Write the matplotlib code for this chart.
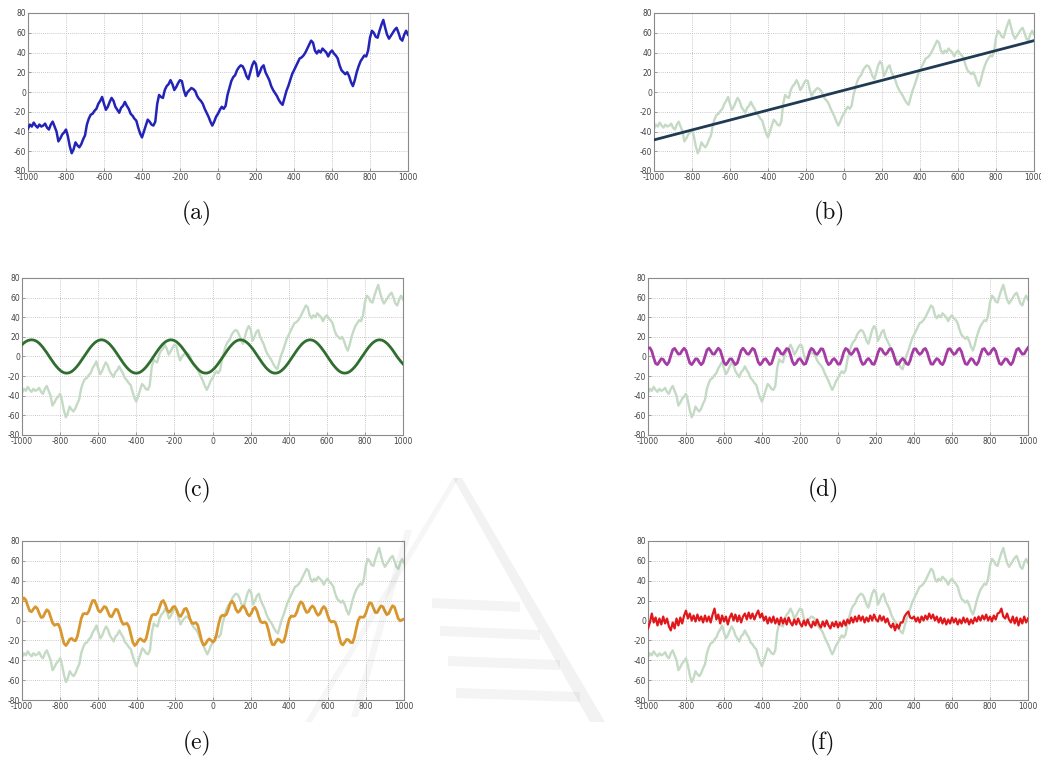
import numpy as np
import matplotlib
matplotlib.use("Agg")
import matplotlib.pyplot as plt
from matplotlib.patches import Polygon

plt.rcParams["axes.unicode_minus"] = False

# sample positions (every 10 units)
x = np.arange(-1000, 1001, 10)

# observed series
series_a = [
    -37, -33, -35, -31, -34, -36, -33, -35, -34, -32,
    -36, -38, -33, -30, -35, -40, -50, -47, -43, -41,
    -38, -45, -55, -62, -58, -51, -54, -56, -53, -48,
    -44, -33, -27, -23, -22, -19, -17, -12, -9, -5,
    -12, -18, -15, -10, -6, -9, -15, -18, -21, -16,
    -14, -10, -14, -17, -22, -24, -27, -29, -36, -42,
    -46, -40, -34, -28, -30, -33, -34, -30, -12, -3,
    -5, -6, 2, 6, 8, 12, 8, 2, 5, 9,
    12, 11, 2, -4, 0, 2, 4, 3, 1, -4,
    -7, -9, -12, -17, -21, -25, -30, -34, -30, -25,
    -22, -18, -15, -17, -14, -3, 4, 11, 15, 17,
    22, 25, 27, 26, 22, 16, 13, 20, 27, 31,
    28, 16, 20, 25, 27, 20, 16, 12, 6, 2,
    -1, -4, -8, -11, -13, -6, 1, 6, 12, 18,
    22, 26, 30, 34, 35, 37, 40, 44, 48, 52,
    50, 42, 39, 42, 40, 44, 42, 40, 36, 40,
    42, 39, 37, 34, 27, 22, 20, 18, 20, 16,
    10, 6, 12, 20, 26, 31, 34, 37, 36, 42,
    55, 62, 60, 56, 55, 62, 68, 73, 65, 58,
    54, 57, 60, 63, 65, 60, 54, 52, 58, 62,
    58,
]

# linear trend: values at x = -1000 and x = 1000
trend_x = [-1000, 1000]
trend_y = [-48.5, 52.0]

# slow periodic component
seasonal_c = [
    12.0, 13.8, 15.2, 16.2, 16.8, 17.0, 16.8, 16.2, 15.1, 13.5,
    11.5, 9.2, 6.6, 3.9, 0.9, -2.0, -4.8, -7.6, -10.0, -12.2,
    -14.1, -15.5, -16.5, -16.9, -16.9, -16.4, -15.4, -13.9, -12.0, -9.8,
    -7.3, -4.5, -1.7, 1.2, 4.1, 6.9, 9.5, 11.7, 13.7, 15.2,
    16.3, 16.9, 17.0, 16.6, 15.7, 14.3, 12.6, 10.4, 8.0, 5.3,
    2.4, -0.5, -3.4, -6.2, -8.8, -11.2, -13.2, -14.9, -16.1, -16.8,
    -17.0, -16.7, -16.0, -14.7, -13.0, -11.0, -8.6, -6.0, -3.1, -0.2,
    2.7, 5.5, 8.2, 10.6, 12.8, 14.5, 15.8, 16.6, 17.0, 16.8,
    16.2, 15.1, 13.5, 11.5, 9.2, 6.6, 3.9, 0.9, -2.0, -4.8,
    -7.6, -10.0, -12.2, -14.1, -15.5, -16.5, -16.9, -16.9, -16.4, -15.4,
    -13.9, -12.0, -9.8, -7.3, -4.5, -1.7, 1.2, 4.1, 6.9, 9.5,
    11.7, 13.7, 15.2, 16.3, 16.9, 17.0, 16.6, 15.7, 14.3, 12.6,
    10.4, 8.0, 5.3, 2.4, -0.5, -3.4, -6.2, -8.8, -11.2, -13.2,
    -14.9, -16.1, -16.8, -17.0, -16.7, -16.0, -14.7, -13.0, -11.0, -8.6,
    -6.0, -3.1, -0.2, 2.7, 5.5, 8.2, 10.6, 12.8, 14.5, 15.8,
    16.6, 17.0, 16.8, 16.2, 15.1, 13.5, 11.5, 9.2, 6.6, 3.9,
    0.9, -2.0, -4.8, -7.6, -10.0, -12.2, -14.1, -15.5, -16.5, -16.9,
    -16.9, -16.4, -15.4, -13.9, -12.0, -9.8, -7.3, -4.5, -1.7, 1.2,
    4.1, 6.9, 9.5, 11.7, 13.7, 15.2, 16.3, 16.9, 17.0, 16.6,
    15.7, 14.3, 12.6, 10.4, 8.0, 5.3, 2.4, -0.5, -3.0, -5.4,
    -7.6,
]

# faster periodic component
seasonal_d = [
    8.5, 8.9, 5.4, -1.3, -7.1, -8.2, -5.2, -2.3, -2.9, -6.3, -8.4, -5.7, 0.9, 6.9, 8.3, 5.4, 2.4, 2.8,
    6.1, 8.4, 6.0, -0.5, -6.6, -8.3, -5.6, -2.4, -2.6, -6.0, -8.4, -6.2, 0.2, 6.4, 8.4, 5.8, 2.5, 2.5,
    5.8, 8.4, 6.4, 0.2, -6.2, -8.4, -5.9, -2.6, -2.4, -5.6, -8.3, -6.6, -0.5, 6.0, 8.4, 6.1, 2.9, 2.3,
    5.4, 8.3, 6.9, 0.9, -5.7, -8.4, -6.3, -2.9, -2.3, -5.2, -8.2, -7.1, -1.3, 5.4, 8.4, 6.5, 3.0, 2.2,
    5.0, 8.1, 7.3, 1.6, -5.2, -8.4, -6.7, -3.2, -2.1, -4.8, -8.0, -7.4, -2.0, 4.9, 8.3, 6.8, 3.3, 2.1,
    4.6, 7.9, 7.6, 2.3, -4.6, -8.3, -7.0, -3.5, -2.1, -4.5, -7.8, -7.7, -2.7, 4.3, 8.2, 7.1, 3.6, 2.0,
    4.3, 7.7, 7.8, 3.0, -4.0, -8.1, -7.3, -3.8, -2.0, -4.1, -7.6, -8.0, -3.3, 3.6, 8.1, 7.4, 3.9, 2.0,
    3.9, 7.4, 8.1, 3.7, -3.3, -8.0, -7.6, -4.1, -2.0, -3.8, -7.3, -8.2, -4.0, 3.0, 7.8, 7.7, 4.3, 2.1,
    3.6, 7.1, 8.2, 4.3, -2.6, -7.7, -7.8, -4.5, -2.1, -3.4, -7.0, -8.3, -4.6, 2.3, 7.5, 7.9, 4.7, 2.1,
    3.3, 6.8, 8.3, 4.9, -1.9, -7.4, -8.1, -4.9, -2.1, -3.1, -6.7, -8.4, -5.2, 1.6, 7.3, 8.1, 5.0, 2.2,
    3.0, 6.5, 8.4, 5.5, -1.3, -7.1, -8.2, -5.2, -2.3, -2.9, -6.3, -8.4, -5.7, 0.9, 6.9, 8.3, 5.4, 2.4,
    2.7, 6.1, 9.0,
]

# remainder
residual_f = [
    -8, -2, 7, -2, 3, -5, 2, -4, 4, -3,
    2, -6, -10, -2, -8, 2, -5, 3, -3, 5,
    10, 2, 7, 0, 5, -1, 6, 0, 4, -2,
    5, -1, 4, -2, 6, 12, 1, 6, -3, 5,
    -1, 4, -4, 3, 7, 0, 6, -1, 5, -2,
    4, 7, 1, 8, 2, 7, 1, 6, 10, 3,
    7, 0, 4, -3, 3, -2, 4, -3, 2, -4,
    3, -3, 2, -4, 3, -2, -5, 1, -4, 2,
    -3, -6, 0, -5, 1, -4, -7, -1, -5, 1,
    -4, -7, -1, -6, 0, -5, -8, -2, -6, -1,
    -7, -2, -6, 0, -5, 1, -3, 3, -2, 4,
    -1, 5, 0, 4, -2, 3, -1, 5, 0, 6,
    1, -1, 5, 0, 4, -2, 2, -4, -7, -3,
    -10, -4, -8, -2, -2, 4, 7, 9, 3, 2,
    4, -1, 3, -2, 4, 0, 5, 1, 7, 2,
    6, 0, 4, -2, 3, -3, 2, -4, 1, -3,
    3, -2, 2, -4, 1, -3, 3, -2, 2, -4,
    1, -3, 3, -1, 4, 0, 5, 1, 6, 0,
    4, -1, 5, 1, 7, 8, 12, 4, 2, 7,
    1, -2, 4, -3, 3, -5, 2, -3, 4, -2,
    2,
]

x_ticks = [-1000, -800, -600, -400, -200, 0, 200, 400, 600, 800, 1000]
y_ticks = [-80, -60, -40, -20, 0, 20, 40, 60, 80]
panel_labels = ["(a)", "(b)", "(c)", "(d)", "(e)", "(f)"]

for name, arr in [("series_a", series_a), ("seasonal_c", seasonal_c),
                  ("seasonal_d", seasonal_d), ("residual_f", residual_f)]:
    assert len(arr) == len(x), (name, len(arr))

a = np.array(series_a, dtype=float)
c = np.array(seasonal_c, dtype=float)
d = np.array(seasonal_d, dtype=float)
f = np.array(residual_f, dtype=float)
e = c + d

W, H = 1041, 760
fig = plt.figure(figsize=(W / 100, H / 100), dpi=100)
fig.patch.set_facecolor("white")


def rect(l, t, r, b):
    return [l / W, 1 - b / H, (r - l) / W, (b - t) / H]


boxes = [
    (28, 13, 408, 171), (654, 13, 1034, 171),
    (22, 278, 403, 435), (648, 278, 1028, 435),
    (22, 541, 404, 700), (648, 541, 1028, 700),
]
label_pos = [(197, 213), (829, 213), (197, 490), (823, 490), (197, 743), (823, 743)]

bg_green = "#c4dac4"
fronts = [
    (x, a, "#2323b8", 1.8),
    (trend_x, trend_y, "#1f3a52", 2.0),
    (x, c, "#2f6e2f", 2.0),
    (x, d, "#a43ca4", 2.0),
    (x, e, "#d8962e", 2.0),
    (x, f, "#e0181c", 1.6),
]

for i, (box, (fx, fy, col, lw)) in enumerate(zip(boxes, fronts)):
    ax = fig.add_axes(rect(*box))
    if i > 0:
        ax.plot(x, a, color=bg_green, lw=1.7, zorder=2)
    ax.plot(fx, fy, color=col, lw=lw, zorder=3)
    ax.set_xlim(-1000, 1000)
    ax.set_ylim(-80, 80)
    ax.set_xticks(x_ticks)
    ax.set_yticks(y_ticks)
    ax.set_xticklabels([str(t) for t in x_ticks])
    ax.set_yticklabels([str(t) for t in y_ticks])
    ax.tick_params(direction="in", length=2, width=0.5, color="#777777",
                   labelsize=5.5, labelcolor="#444444", pad=1.5)
    ax.grid(True, linestyle=(0, (1, 1.5)), color="#b8b8b8", linewidth=0.6)
    ax.set_axisbelow(True)
    for s in ax.spines.values():
        s.set_color("#8a8a8a")
        s.set_linewidth(0.8)
    lx, ly = label_pos[i]
    fig.text(lx / W, 1 - ly / H, panel_labels[i], ha="center", va="center",
             fontsize=17, fontfamily="cmr10", color="#111111")

# faint logo behind the lower panels (pixel coordinates, origin top-left)
ov = fig.add_axes([0, 0, 1, 1], zorder=20)
ov.set_xlim(0, W)
ov.set_ylim(H, 0)
ov.axis("off")
ov.patch.set_alpha(0)
logo_col = "#000000"
ov.add_patch(Polygon([(453, 478), (459, 478), (312, 722), (305, 722)],
                     closed=True, color=logo_col, alpha=0.035, lw=0))
ov.add_patch(Polygon([(453, 478), (462, 478), (605, 722), (590, 722)],
                     closed=True, color=logo_col, alpha=0.05, lw=0))
ov.add_patch(Polygon([(405, 530), (412, 530), (358, 717), (351, 717)],
                     closed=True, color=logo_col, alpha=0.035, lw=0))
for y0, x0, x1 in [(598, 432, 520), (626, 440, 540), (656, 448, 560), (688, 456, 580)]:
    ov.add_patch(Polygon([(x0, y0), (x1, y0 + 4), (x1, y0 + 14), (x0, y0 + 10)],
                         closed=True, color=logo_col, alpha=0.045, lw=0))

fig.savefig("out.png", dpi=100, facecolor="white")
